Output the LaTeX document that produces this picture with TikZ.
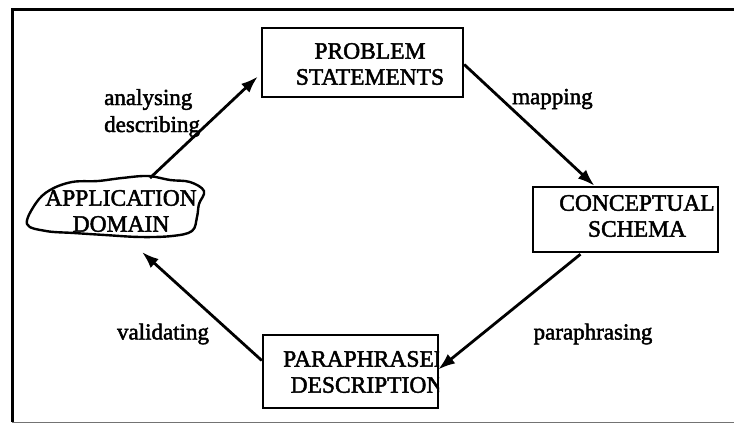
\documentclass[tikz,border=0pt]{standalone}
\usepackage{fontspec}
\setmainfont{Liberation Serif}
% slightly heavier serif for all lettering
\font\capfontraw="Liberation Serif:embolden=2" at 23.5pt
\font\labfontraw="Liberation Serif:embolden=2" at 23pt
\newcommand\capfont{\capfontraw\baselineskip=26pt\relax}
\newcommand\labfont{\labfontraw\baselineskip=27pt\relax}
\usetikzlibrary{arrows.meta,calc}

\tikzset{
  frameline/.style={line width=3pt,black},
  boxnode/.style={draw,line width=2.4pt,black,rectangle,inner sep=0pt},
  caption/.style={font=\capfont,align=center,inner sep=0pt},
  edgelabel/.style={font=\labfont,inner sep=0pt},
  flow/.style={line width=2.8pt,black,-{Latex[length=17pt,width=12pt]}},
  blob/.style={line width=2.4pt,black,line join=round}
}

\begin{document}
\begin{tikzpicture}[x=1pt,y=-1pt]
  \useasboundingbox (0,0) rectangle (734,424);

  % outer frame: heavy left and top rules, faint bottom rule
  \draw[frameline] (12,422) -- (12,9) -- (734,9);
  \draw[line width=1pt,black!55] (12,422) -- (734,422);

  % the four stages
  \node[boxnode,minimum width=201pt,minimum height=69pt] (ps) at (362.5,62.5) {};
  \node[caption] (pstext) at (370,64) {PROBLEM\\STATEMENTS};

  \node[boxnode,minimum width=185pt,minimum height=65pt] (cs) at (625.5,219.5) {};
  \node[caption] (cstext) at (637,216) {CONCEPTUAL\\SCHEMA};

  \node[boxnode,minimum width=175pt,minimum height=73pt] (pd) at (350.5,371.5) {};
  \begin{scope}
    \clip (pd.south west) rectangle (pd.north east);
    \node[caption] (pdtext) at (367,372) {PARAPHRASED\\DESCRIPTION};
  \end{scope}

  % hand-drawn outline of the application domain
  \node[caption] (app) at (121,211) {APPLICATION\\DOMAIN};
  \draw[blob] plot[smooth cycle,tension=0.6] coordinates {
    (27,224) (36,203) (50,190) (72,182) (98,181) (122,178) (148,176)
    (170,180) (190,182) (204,191) (199,204) (197,217) (192,231)
    (172,236) (140,237) (105,235) (74,233) (46,231)};
  \coordinate (appTop) at (150,178);
  \coordinate (appBot) at (142,252);

  % transitions between the stages
  \draw[flow] (appTop) -- ($(ps.west)+(-3,14)$);
  \draw[flow] ($(ps.east)+(0,2)$) -- ($(cs.north)+(-31,0)$);
  \draw[flow] ($(cs.south)+(-45,1)$) -- ($(pd.east)+(-1,-2)$);
  \draw[flow] ($(pd.west)+(0,-11)$) -- (appBot);

  % labels on the transitions
  \node[edgelabel,align=left,anchor=west] (lab1) at (104,113) {analysing\\describing};
  \node[edgelabel,anchor=west] (lab2) at (512,99) {mapping};
  \node[edgelabel] (lab3) at (593,334) {paraphrasing};
  \node[edgelabel] (lab4) at (163,334) {validating};
\end{tikzpicture}
\end{document}
